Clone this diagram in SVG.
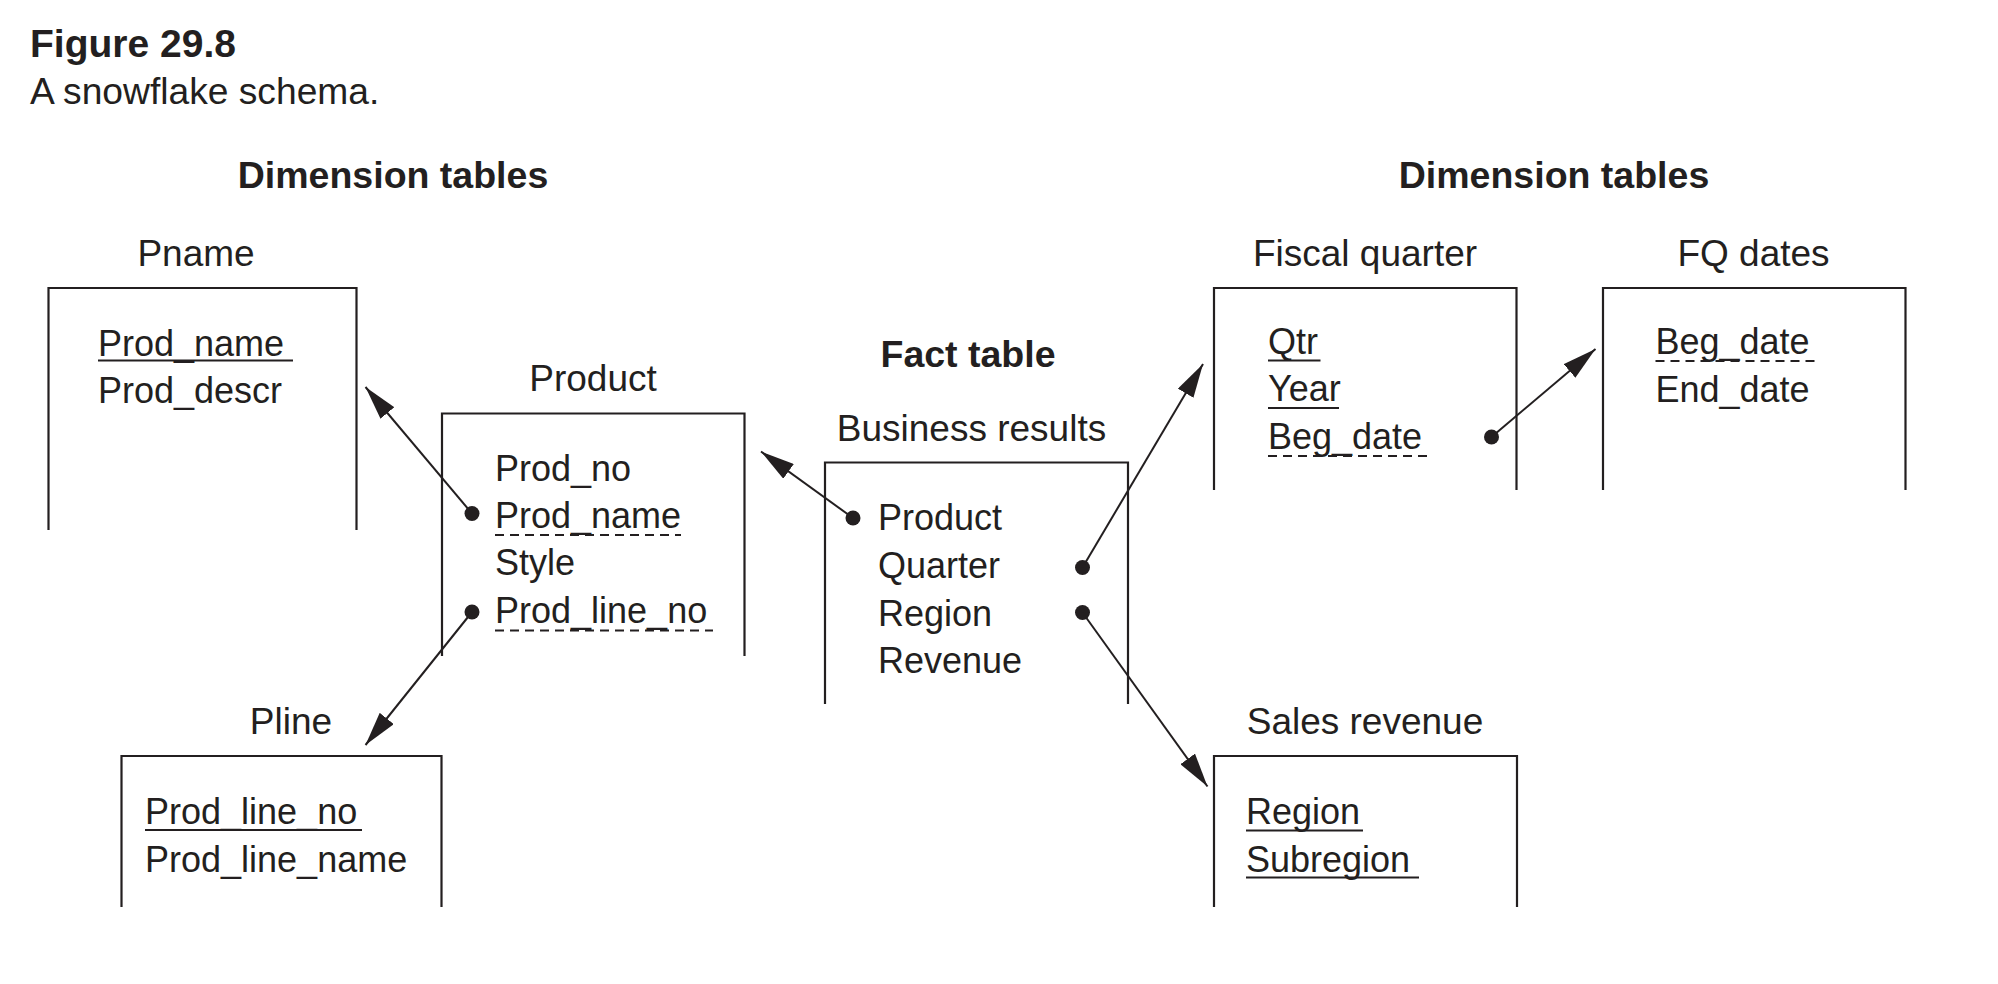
<svg xmlns="http://www.w3.org/2000/svg" width="1998" height="984" viewBox="0 0 1998 984">
<style>
text{font-family:"Liberation Sans",Arial,sans-serif;fill:#231f20}
.t{font-size:36px}
.b{font-size:37.5px;font-weight:bold;text-anchor:middle}
.lbl{font-size:37px;text-anchor:middle}
.box{fill:none;stroke:#231f20;stroke-width:2.2}
.ul{stroke:#231f20;stroke-width:2.2}
.dl{stroke:#231f20;stroke-width:2;stroke-dasharray:9 6}
.con{stroke:#231f20;stroke-width:2;fill:none;marker-end:url(#ah)}
.dot{fill:#231f20}
</style>
<defs>
<marker id="ah" viewBox="0 0 34 18" refX="34" refY="9" markerWidth="34" markerHeight="18" markerUnits="userSpaceOnUse" orient="auto">
<path d="M0,0 L34,9 L0,18 Z" fill="#231f20"/>
</marker>
</defs>
<rect width="1998" height="984" fill="#fff"/>
<text x="30" y="57" style="font-size:39px;font-weight:bold">Figure 29.8</text>
<text x="30" y="104" style="font-size:37.2px">A snowflake schema.</text>
<text class="b" x="393" y="188">Dimension tables</text>
<text class="b" x="1554" y="188">Dimension tables</text>
<text class="b" x="968" y="367">Fact table</text>

<g id="pname">
<text class="lbl" x="196" y="266">Pname</text>
<path class="box" d="M48.5,530 V288 H356.5 V530"/>
<text class="t" x="98" y="356">Prod_name</text>
<line class="ul" x1="98" y1="360.5" x2="293" y2="360.5"/>
<text class="t" x="98" y="403">Prod_descr</text>
</g>

<g id="product">
<text class="lbl" x="593" y="391">Product</text>
<path class="box" d="M442,656 V413.5 H744.5 V656"/>
<text class="t" x="495" y="480.5">Prod_no</text>
<text class="t" x="495" y="528">Prod_name</text>
<line class="dl" x1="495" y1="535" x2="681" y2="535"/>
<text class="t" x="495" y="575">Style</text>
<text class="t" x="495" y="623">Prod_line_no</text>
<line class="dl" x1="495" y1="630.5" x2="713" y2="630.5"/>
<circle class="dot" cx="472" cy="513.5" r="7.5"/>
<circle class="dot" cx="472" cy="612" r="7.5"/>
</g>

<g id="pline">
<text class="lbl" x="291" y="734">Pline</text>
<path class="box" d="M121.5,907 V756 H441.5 V907"/>
<text class="t" x="145" y="824">Prod_line_no</text>
<line class="ul" x1="145" y1="830" x2="362" y2="830"/>
<text class="t" x="145" y="871.5">Prod_line_name</text>
</g>

<g id="business-results">
<text class="lbl" x="971.5" y="440.5">Business results</text>
<path class="box" d="M825,704 V462.5 H1128 V704"/>
<text class="t" x="878" y="530">Product</text>
<text class="t" x="878" y="578">Quarter</text>
<text class="t" x="878" y="626">Region</text>
<text class="t" x="878" y="673">Revenue</text>
<circle class="dot" cx="853" cy="518" r="7.5"/>
<circle class="dot" cx="1082.5" cy="567.5" r="7.5"/>
<circle class="dot" cx="1082.5" cy="612.5" r="7.5"/>
</g>

<g id="fiscal-quarter">
<text class="lbl" x="1365" y="266">Fiscal quarter</text>
<path class="box" d="M1214,490 V288 H1516.5 V490"/>
<text class="t" x="1268" y="353.5">Qtr</text>
<line class="ul" x1="1268" y1="360.5" x2="1320.5" y2="360.5"/>
<text class="t" x="1268" y="401">Year</text>
<line class="ul" x1="1268" y1="408" x2="1339" y2="408"/>
<text class="t" x="1268" y="448.5">Beg_date</text>
<line class="dl" x1="1268" y1="456" x2="1429" y2="456"/>
<circle class="dot" cx="1491.5" cy="437" r="7.5"/>
</g>

<g id="fq-dates">
<text class="lbl" x="1753.5" y="266">FQ dates</text>
<path class="box" d="M1603,490 V288 H1905.5 V490"/>
<text class="t" x="1655.5" y="354">Beg_date</text>
<line class="dl" x1="1655.5" y1="361" x2="1816" y2="361"/>
<text class="t" x="1655.5" y="401.5">End_date</text>
</g>

<g id="sales-revenue">
<text class="lbl" x="1365" y="734">Sales revenue</text>
<path class="box" d="M1214,907 V756 H1517 V907"/>
<text class="t" x="1246" y="824">Region</text>
<line class="ul" x1="1246" y1="830.5" x2="1363" y2="830.5"/>
<text class="t" x="1246" y="871.5">Subregion</text>
<line class="ul" x1="1246" y1="877.5" x2="1419" y2="877.5"/>
</g>

<g id="connectors">
<line class="con" x1="472" y1="513.5" x2="365.5" y2="387"/>
<line class="con" x1="472" y1="612" x2="365.5" y2="745"/>
<line class="con" x1="853" y1="518" x2="761" y2="451.5"/>
<line class="con" x1="1082.5" y1="567.5" x2="1203" y2="364"/>
<line class="con" x1="1082.5" y1="612.5" x2="1207.5" y2="786.5"/>
<line class="con" x1="1491.5" y1="437" x2="1595.5" y2="349"/>
</g>
</svg>
